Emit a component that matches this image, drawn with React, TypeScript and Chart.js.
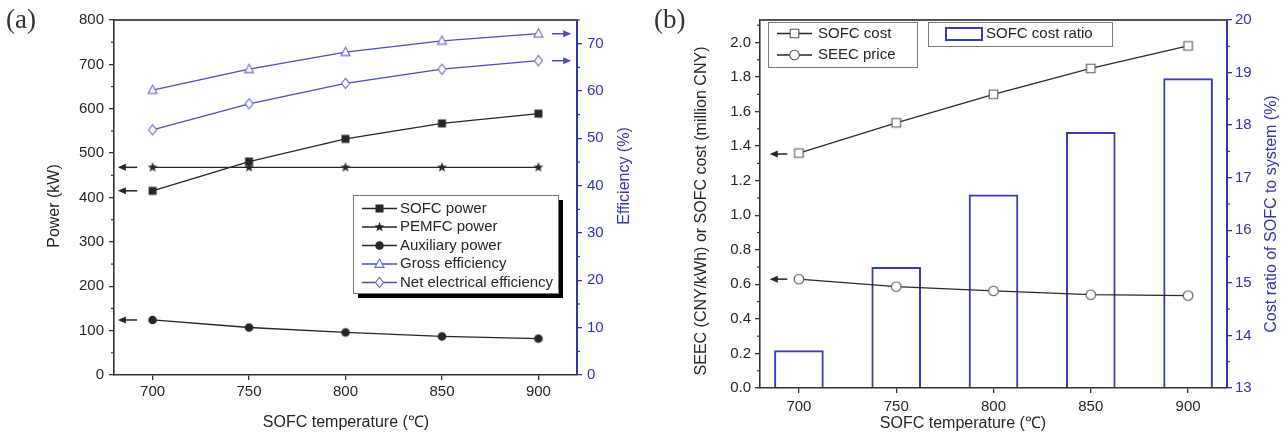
import React, { useEffect, useRef } from 'react';
import { Chart, registerables } from 'chart.js';

Chart.register(...registerables);

// ---------- data ----------
const temperatures = [700, 750, 800, 850, 900];
const sofcPower = [415, 481, 532, 567, 589];
const pemfcPower = [468, 468, 468, 468, 468];
const auxiliaryPower = [124, 107, 96, 87, 82];
const grossEfficiency = [60.2, 64.6, 68.2, 70.6, 72.1];
const netEfficiency = [51.8, 57.3, 61.6, 64.6, 66.4];
const sofcCost = [1.36, 1.535, 1.7, 1.85, 1.98];
const seecPrice = [0.63, 0.587, 0.562, 0.54, 0.535];
const costRatio = [13.72, 15.3, 16.68, 17.87, 18.89];

const xTickValues = [700, 750, 800, 850, 900];
const powerTickValues = [0, 100, 200, 300, 400, 500, 600, 700, 800];
const efficiencyTickValues = [0, 10, 20, 30, 40, 50, 60, 70];
const costTickValues = [0, 0.2, 0.4, 0.6, 0.8, 1.0, 1.2, 1.4, 1.6, 1.8, 2.0];
const ratioTickValues = [13, 14, 15, 16, 17, 18, 19, 20];

const legendA = ['SOFC power', 'PEMFC power', 'Auxiliary power', 'Gross efficiency', 'Net electrical efficiency'];
const legendB = ['SOFC cost', 'SEEC price'];
const legendB2 = 'SOFC cost ratio';

// ---------- styles ----------
const FONT = '"Liberation Sans", Arial, Helvetica, sans-serif';
const SERIF = '"Liberation Serif", "Times New Roman", serif';
const DARK = '#262626';
const AXIS = '#333333';
const BLUE = '#3434a6';
const BLUE_LINE = '#4c4cbc';
const BLUE_MARK = '#6a6acb';
const BAR_BLUE = '#3c3cb2';

const xy = (ys: number[]) => temperatures.map((t, i) => ({ x: t, y: ys[i] }));

function drawMarker(ctx: CanvasRenderingContext2D, style: string, x: number, y: number, r: number, fill: string, stroke: string, lw: number) {
  ctx.save();
  ctx.beginPath();
  if (style === 'rect') {
    ctx.rect(x - r, y - r, 2 * r, 2 * r);
  } else if (style === 'circle') {
    ctx.arc(x, y, r, 0, Math.PI * 2);
  } else if (style === 'triangle') {
    ctx.moveTo(x, y - r * 1.1);
    ctx.lineTo(x + r, y + r * 0.75);
    ctx.lineTo(x - r, y + r * 0.75);
    ctx.closePath();
  } else if (style === 'diamond') {
    ctx.moveTo(x, y - r * 1.2);
    ctx.lineTo(x + r * 0.95, y);
    ctx.lineTo(x, y + r * 1.2);
    ctx.lineTo(x - r * 0.95, y);
    ctx.closePath();
  } else if (style === 'star') {
    for (let k = 0; k < 10; k++) {
      const rad = k % 2 === 0 ? r * 1.15 : r * 0.48;
      const a = -Math.PI / 2 + (k * Math.PI) / 5;
      const px = x + rad * Math.cos(a);
      const py = y + rad * Math.sin(a);
      if (k === 0) ctx.moveTo(px, py);
      else ctx.lineTo(px, py);
    }
    ctx.closePath();
  }
  ctx.fillStyle = fill;
  ctx.fill();
  if (lw > 0) {
    ctx.lineWidth = lw;
    ctx.strokeStyle = stroke;
    ctx.stroke();
  }
  ctx.restore();
}

function makeMarker(style: string, r: number, fill: string, stroke: string, lw: number) {
  const c = document.createElement('canvas');
  const s = Math.ceil(2 * r * 1.3 + lw + 4);
  c.width = s;
  c.height = s;
  const ctx = c.getContext('2d') as CanvasRenderingContext2D;
  drawMarker(ctx, style, s / 2, s / 2, r, fill, stroke, lw);
  return c;
}

function vText(ctx: CanvasRenderingContext2D, text: string, x: number, y: number, color: string, font: string) {
  ctx.save();
  ctx.translate(x, y);
  ctx.rotate(-Math.PI / 2);
  ctx.textAlign = 'center';
  ctx.textBaseline = 'middle';
  ctx.fillStyle = color;
  ctx.font = font;
  ctx.fillText(text, 0, 0);
  ctx.restore();
}

function hText(ctx: CanvasRenderingContext2D, text: string, x: number, y: number, color: string, font: string, align: CanvasTextAlign = 'center') {
  ctx.save();
  ctx.textAlign = align;
  ctx.textBaseline = 'middle';
  ctx.fillStyle = color;
  ctx.font = font;
  ctx.fillText(text, x, y);
  ctx.restore();
}

function arrow(ctx: CanvasRenderingContext2D, xTail: number, xHead: number, y: number, color: string) {
  const dir = Math.sign(xHead - xTail);
  ctx.save();
  ctx.strokeStyle = color;
  ctx.fillStyle = color;
  ctx.lineWidth = 1.5;
  ctx.beginPath();
  ctx.moveTo(xTail, y);
  ctx.lineTo(xHead - dir * 5, y);
  ctx.stroke();
  ctx.beginPath();
  ctx.moveTo(xHead, y);
  ctx.lineTo(xHead - dir * 8, y - 3.5);
  ctx.lineTo(xHead - dir * 8, y + 3.5);
  ctx.closePath();
  ctx.fill();
  ctx.restore();
}

function minorTicks(ctx: CanvasRenderingContext2D, scale: any, step: number, side: 'left' | 'right', len: number, color: string) {
  const area = scale.chart.chartArea;
  ctx.save();
  ctx.strokeStyle = color;
  ctx.lineWidth = 1.2;
  const start = Math.ceil(scale.min / step - 1e-9) * step;
  for (let v = start; v <= scale.max + 1e-9; v += step) {
    const rem = Math.abs(v / (step * 2) - Math.round(v / (step * 2)));
    if (rem < 1e-6) continue; // major
    const p = scale.getPixelForValue(v);
    ctx.beginPath();
    if (side === 'left') {
      ctx.moveTo(area.left, p);
      ctx.lineTo(area.left - len, p);
    } else {
      ctx.moveTo(area.right, p);
      ctx.lineTo(area.right + len, p);
    }
    ctx.stroke();
  }
  ctx.restore();
}

function axis(o: {
  position: string; min: number; max: number; ticks: number[]; color: string; size: number;
  decimals?: number; padding?: number; borderColor?: string; borderWidth?: number;
}) {
  const horizontal = o.position === 'bottom';
  return {
    type: 'linear',
    position: o.position,
    min: o.min,
    max: o.max,
    offset: false,
    afterBuildTicks: (s: any) => {
      s.ticks = o.ticks.map((v) => ({ value: v }));
    },
    afterFit: (s: any) => {
      if (horizontal) s.height = o.size;
      else s.width = o.size;
    },
    grid: {
      display: true,
      drawOnChartArea: false,
      drawTicks: true,
      tickLength: 5,
      offset: false,
      color: o.borderColor || o.color,
      lineWidth: 1.3,
    },
    border: { display: true, color: o.borderColor || o.color, width: o.borderWidth || 1.6 },
    ticks: {
      color: o.color,
      autoSkip: false,
      maxRotation: 0,
      minRotation: 0,
      padding: o.padding ?? 4,
      font: { family: FONT, size: 15 },
      callback: (v: any) => (o.decimals ? Number(v).toFixed(o.decimals) : String(v)),
    },
    title: { display: false },
  };
}

function legendFrame(ctx: CanvasRenderingContext2D, x: number, y: number, w: number, h: number, shadow: boolean) {
  ctx.save();
  if (shadow) {
    ctx.fillStyle = '#000';
    ctx.fillRect(x + 5, y + 5, w, h);
  }
  ctx.fillStyle = '#fff';
  ctx.fillRect(x, y, w, h);
  ctx.strokeStyle = '#7a7a7a';
  ctx.lineWidth = 1;
  ctx.strokeRect(x + 0.5, y + 0.5, w, h);
  ctx.restore();
}

function sampleLine(ctx: CanvasRenderingContext2D, x1: number, x2: number, y: number, color: string) {
  ctx.save();
  ctx.strokeStyle = color;
  ctx.lineWidth = 1.4;
  ctx.beginPath();
  ctx.moveTo(x1, y);
  ctx.lineTo(x2, y);
  ctx.stroke();
  ctx.restore();
}

const panelAPlugin = {
  id: 'panelA',
  afterDraw(chart: any) {
    const ctx = chart.ctx as CanvasRenderingContext2D;
    const { left, right, top } = chart.chartArea;
    const x = chart.scales.x;
    const y = chart.scales.y;
    const y2 = chart.scales.y2;
    // top frame
    ctx.save();
    ctx.strokeStyle = '#555';
    ctx.lineWidth = 1.8;
    ctx.beginPath();
    ctx.moveTo(left, top);
    ctx.lineTo(right, top);
    ctx.stroke();
    ctx.restore();
    minorTicks(ctx, y, 50, 'left', 3, AXIS);
    minorTicks(ctx, y2, 5, 'right', 3, BLUE);
    // arrows
    const xa1 = x.getPixelForValue(692);
    const xa2 = x.getPixelForValue(682);
    arrow(ctx, xa1, xa2, y.getPixelForValue(sofcPower[0]), DARK);
    arrow(ctx, xa1, xa2, y.getPixelForValue(pemfcPower[0]), DARK);
    arrow(ctx, xa1, xa2, y.getPixelForValue(auxiliaryPower[0]), DARK);
    const xb1 = x.getPixelForValue(907);
    const xb2 = x.getPixelForValue(917);
    arrow(ctx, xb1, xb2, y2.getPixelForValue(grossEfficiency[4]), BLUE_LINE);
    arrow(ctx, xb1, xb2, y2.getPixelForValue(netEfficiency[4]), BLUE_LINE);
    // legend
    const lx = 353, ly = 195, lw = 205, lh = 98;
    legendFrame(ctx, lx, ly, lw, lh, true);
    const styles = [
      ['rect', 4, DARK, DARK, 0, DARK],
      ['star', 4.5, DARK, DARK, 0, DARK],
      ['circle', 4.3, DARK, DARK, 0, DARK],
      ['triangle', 4.5, '#fff', BLUE_MARK, 1.1, BLUE_LINE],
      ['diamond', 4.2, '#fff', BLUE_MARK, 1.1, BLUE_LINE],
    ] as any[];
    legendA.forEach((label, i) => {
      const ry = 208.5 + i * 18.5;
      const st = styles[i];
      sampleLine(ctx, 362, 397, ry, st[5]);
      drawMarker(ctx, st[0], 379.5, ry, st[1], st[2], st[3], st[4]);
      hText(ctx, label, 400, ry, DARK, `15px ${FONT}`, 'left');
    });
    // titles
    vText(ctx, 'Power (kW)', 55, 206, DARK, `16px ${FONT}`);
    vText(ctx, 'Efficiency (%)', 625, 176, BLUE, `16px ${FONT}`);
    hText(ctx, 'SOFC temperature (℃)', 346, 423, DARK, `16px ${FONT}`);
    hText(ctx, '(a)', 6, 21, '#333', `27px ${SERIF}`, 'left');
  },
};

const panelBPlugin = {
  id: 'panelB',
  afterDraw(chart: any) {
    const ctx = chart.ctx as CanvasRenderingContext2D;
    const { left, right, top } = chart.chartArea;
    const x = chart.scales.x;
    const y = chart.scales.y;
    const y2 = chart.scales.y2;
    ctx.save();
    ctx.strokeStyle = '#555';
    ctx.lineWidth = 1.8;
    ctx.beginPath();
    ctx.moveTo(left, top);
    ctx.lineTo(right, top);
    ctx.stroke();
    ctx.restore();
    minorTicks(ctx, y, 0.1, 'left', 3, AXIS);
    minorTicks(ctx, y2, 0.5, 'right', 3, BLUE);
    // arrows
    const xa1 = x.getPixelForValue(694);
    const xa2 = x.getPixelForValue(685);
    arrow(ctx, xa1, xa2, y.getPixelForValue(sofcCost[0]) + 1, DARK);
    arrow(ctx, xa1, xa2, y.getPixelForValue(seecPrice[0]), DARK);
    // legend 1
    legendFrame(ctx, 128, 22, 149, 45, false);
    const st = [['rect', 4.3], ['circle', 4.8]] as any[];
    legendB.forEach((label, i) => {
      const ry = 33.5 + i * 21.5;
      sampleLine(ctx, 137, 172, ry, DARK);
      drawMarker(ctx, st[i][0], 154.5, ry, st[i][1], '#fff', '#555', 1.1);
      hText(ctx, label, 178, ry, DARK, `15px ${FONT}`, 'left');
    });
    // legend 2
    legendFrame(ctx, 288, 22, 184, 24, false);
    ctx.save();
    ctx.strokeStyle = BAR_BLUE;
    ctx.lineWidth = 2;
    ctx.strokeRect(306, 28, 36, 12);
    ctx.restore();
    hText(ctx, legendB2, 346, 34, DARK, `15px ${FONT}`, 'left');
    // titles
    vText(ctx, 'SEEC (CNY/kWh) or SOFC cost (million CNY)', 62, 211, DARK, `16px ${FONT}`);
    vText(ctx, 'Cost ratio of SOFC to system (%)', 632, 214, BLUE, `16px ${FONT}`);
    hText(ctx, 'SOFC temperature (℃)', 323, 424, DARK, `16px ${FONT}`);
    hText(ctx, '(b)', 14, 21, '#333', `27px ${SERIF}`, 'left');
  },
};

export default function App() {
  const refA = useRef<HTMLCanvasElement>(null);
  const refB = useRef<HTMLCanvasElement>(null);

  useEffect(() => {
    const mk = {
      sq: makeMarker('rect', 4, DARK, DARK, 0),
      star: makeMarker('star', 4.5, DARK, DARK, 0),
      dot: makeMarker('circle', 4.3, DARK, DARK, 0),
      tri: makeMarker('triangle', 4.5, '#fff', BLUE_MARK, 1.1),
      dia: makeMarker('diamond', 4.2, '#fff', BLUE_MARK, 1.1),
      osq: makeMarker('rect', 4.3, '#fff', '#555', 1.1),
      ocir: makeMarker('circle', 4.8, '#fff', '#555', 1.1),
    };

    const lineDs = (label: string, data: any, axisId: string, color: string, img: any) => ({
      type: 'line',
      label,
      data,
      yAxisID: axisId,
      borderColor: color,
      borderWidth: 1.3,
      backgroundColor: color,
      pointStyle: img,
      pointRadius: 5,
      tension: 0,
      fill: false,
      order: 1,
    });

    const chartA = new Chart(refA.current as HTMLCanvasElement, {
      type: 'line',
      data: {
        datasets: [
          lineDs(legendA[0], xy(sofcPower), 'y', DARK, mk.sq),
          lineDs(legendA[1], xy(pemfcPower), 'y', DARK, mk.star),
          lineDs(legendA[2], xy(auxiliaryPower), 'y', DARK, mk.dot),
          lineDs(legendA[3], xy(grossEfficiency), 'y2', BLUE_LINE, mk.tri),
          lineDs(legendA[4], xy(netEfficiency), 'y2', BLUE_LINE, mk.dia),
        ] as any,
      },
      options: {
        responsive: false,
        animation: false,
        devicePixelRatio: 1,
        events: [],
        layout: { padding: { top: 20, left: 0, right: 0, bottom: 0 } },
        plugins: { legend: { display: false }, tooltip: { enabled: false } },
        scales: {
          x: axis({ position: 'bottom', min: 680, max: 920, ticks: xTickValues, color: DARK, borderColor: AXIS, size: 59, padding: 3 }),
          y: axis({ position: 'left', min: 0, max: 800, ticks: powerTickValues, color: DARK, borderColor: AXIS, size: 114, padding: 5 }),
          y2: axis({ position: 'right', min: 0, max: 75, ticks: efficiencyTickValues, color: BLUE, borderColor: BLUE, size: 63, padding: 5, borderWidth: 2 }),
        } as any,
      },
      plugins: [panelAPlugin],
    } as any);

    const chartB = new Chart(refB.current as HTMLCanvasElement, {
      type: 'bar',
      data: {
        datasets: [
          {
            type: 'bar',
            label: legendB2,
            data: xy(costRatio),
            yAxisID: 'y2',
            base: 13,
            backgroundColor: 'rgba(255,255,255,0)',
            borderColor: BAR_BLUE,
            borderWidth: 2,
            borderSkipped: 'start',
            barPercentage: 0.51,
            categoryPercentage: 1,
            order: 3,
          },
          lineDs(legendB[0], xy(sofcCost), 'y', '#2a2a2a', mk.osq),
          lineDs(legendB[1], xy(seecPrice), 'y', '#2a2a2a', mk.ocir),
        ] as any,
      },
      options: {
        responsive: false,
        animation: false,
        devicePixelRatio: 1,
        events: [],
        layout: { padding: { top: 20, left: 0, right: 0, bottom: 0 } },
        plugins: { legend: { display: false }, tooltip: { enabled: false } },
        scales: {
          x: axis({ position: 'bottom', min: 680, max: 920, ticks: xTickValues, color: DARK, borderColor: AXIS, size: 46, padding: 5 }),
          y: axis({ position: 'left', min: 0, max: 2.13, ticks: costTickValues, color: DARK, borderColor: AXIS, size: 120, decimals: 1, padding: 4 }),
          y2: axis({ position: 'right', min: 13, max: 20, ticks: ratioTickValues, color: BLUE, borderColor: BLUE, size: 61, padding: 3, borderWidth: 2 }),
        } as any,
      },
      plugins: [panelBPlugin],
    } as any);

    return () => {
      chartA.destroy();
      chartB.destroy();
    };
  }, []);

  return (
    <div style={{ position: 'absolute', left: 0, top: 0, width: 1288, height: 434, background: '#fff', overflow: 'hidden' }}>
      <canvas ref={refA} width={640} height={434} style={{ position: 'absolute', left: 0, top: 0, width: 640, height: 434 }} />
      <canvas ref={refB} width={648} height={434} style={{ position: 'absolute', left: 640, top: 0, width: 648, height: 434 }} />
    </div>
  );
}
